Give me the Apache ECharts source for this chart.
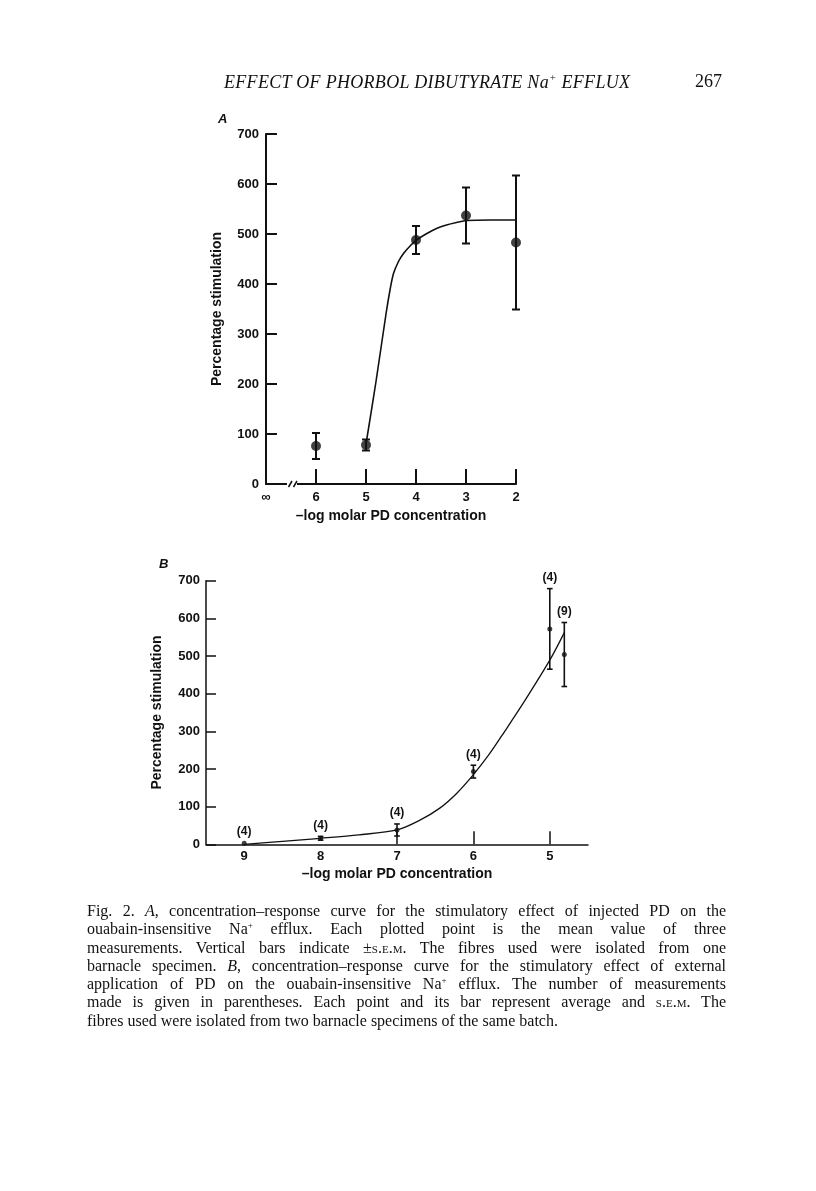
<!DOCTYPE html>
<html><head><meta charset="utf-8">
<script src="https://cdn.jsdelivr.net/npm/echarts@6/dist/echarts.min.js"></script>
<style>
html,body{margin:0;padding:0;background:#fff;}
#chart{position:absolute;left:0;top:0;width:816px;height:1191px;}
.hdr{position:absolute;top:71px;font-family:"Liberation Serif","DejaVu Serif",serif;font-size:18px;color:#111;white-space:nowrap;}
.cap{position:absolute;left:87px;top:902px;width:639px;font-family:"Liberation Serif","DejaVu Serif",serif;font-size:16px;line-height:18.3px;color:#111;}
.cap div{text-align:justify;text-align-last:justify;white-space:nowrap;}
.cap div.last{text-align-last:left;}
.sc{font-variant:small-caps;}
</style>
</head><body>
<div id="chart"></div>
<div class="hdr" style="left:224px;font-style:italic;letter-spacing:0.3px;">EFFECT OF PHORBOL DIBUTYRATE Na<sup style="font-size:11px">+</sup> EFFLUX</div>
<div class="hdr" style="left:695px;">267</div>
<div class="cap">
<div>Fig. 2. <i>A</i>, concentration–response curve for the stimulatory effect of injected PD on the</div>
<div>ouabain-insensitive Na<sup style="font-size:9px;line-height:0">+</sup> efflux. Each plotted point is the mean value of three</div>
<div>measurements. Vertical bars indicate ±<span class="sc">s.e.m.</span> The fibres used were isolated from one</div>
<div>barnacle specimen. <i>B</i>, concentration–response curve for the stimulatory effect of external</div>
<div>application of PD on the ouabain-insensitive Na<sup style="font-size:9px;line-height:0">+</sup> efflux. The number of measurements</div>
<div>made is given in parentheses. Each point and its bar represent average and <span class="sc">s.e.m.</span> The</div>
<div class="last">fibres used were isolated from two barnacle specimens of the same batch.</div>
</div>
<script>
// ---------- Panel A data ----------
const aTickValues = [7, 6, 5, 4, 3, 2];
const aTickLabels = ['∞', '6', '5', '4', '3', '2'];
const aX = [6, 5, 4, 3, 2];
const aMean = [76, 78, 488, 537, 483];
const aSem = [26, 11, 28, 56, 134];
const aCurveX = [5.0, 4.8, 4.6, 4.52, 4.45, 4.35, 4.25, 4.1, 3.99, 3.8, 3.59, 3.39, 3.19, 2.99, 2.5, 2.0];
const aCurveY = [80, 205, 340, 388, 421, 445, 461, 478, 488, 500, 511, 518, 523, 527, 528, 528];
const aBreak = [6.46];

// ---------- Panel B data ----------
const bTickValues = [9, 8, 7, 6, 5];
const bTickMarks = [7, 6, 5];
const bX = [9, 8, 7, 6, 5, 4.81];
const bMean = [3, 16, 38, 193, 572, 504];
const bSem = [0, 5, 16, 17, 107, 85];
const bN = ['(4)', '(4)', '(4)', '(4)', '(4)', '(9)'];
const bCurveX = [9, 8.5, 8, 7.5, 7, 6.7, 6.44, 6.22, 6, 5.79, 5.59, 5.35, 5, 4.81];
const bCurveY = [0, 8, 16, 25, 38, 64, 96, 135, 185, 240, 300, 374, 489, 562];

const INK = '#111';
const FONT = '"Liberation Sans", Arial, sans-serif';

function errRender(hw, lw, withLabel) {
  return function (params, api) {
    const x = api.value(0), m = api.value(1), s = api.value(2);
    const top = api.coord([x, m + s]);
    const bot = api.coord([x, m - s]);
    const st = { stroke: INK, lineWidth: lw };
    const ch = [];
    if (s > 0) {
      ch.push({ type: 'line', shape: { x1: top[0], y1: top[1], x2: bot[0], y2: bot[1] }, style: st });
      ch.push({ type: 'line', shape: { x1: top[0] - hw, y1: top[1], x2: top[0] + hw, y2: top[1] }, style: st });
      ch.push({ type: 'line', shape: { x1: bot[0] - hw, y1: bot[1], x2: bot[0] + hw, y2: bot[1] }, style: st });
    }
    if (withLabel) {
      ch.push({ type: 'text', x: top[0], y: top[1] - 11,
        style: { text: bN[params.dataIndex], fill: INK, font: 'bold 12px ' + FONT, align: 'center', verticalAlign: 'middle' } });
    }
    return { type: 'group', children: ch };
  };
}

const chart = echarts.init(document.getElementById('chart'), null, { renderer: 'canvas' });
chart.setOption({
  backgroundColor: '#fff',
  animation: false,
  grid: [
    { left: 266, top: 134, width: 250, height: 350 },
    { left: 206, top: 580.7, width: 382, height: 263.6 }
  ],
  graphic: [
    { type: 'text', left: 218, top: 113, style: { text: 'A', font: 'italic bold 13px ' + FONT, fill: INK } },
    { type: 'text', left: 159, top: 558, style: { text: 'B', font: 'italic bold 13px ' + FONT, fill: INK } }
  ],
  xAxis: [
    {
      gridIndex: 0, type: 'value', min: 2, max: 7, inverse: true,
      name: '–log molar PD concentration', nameLocation: 'middle', nameGap: 25,
      nameTextStyle: { fontFamily: FONT, fontSize: 14, color: INK, fontWeight: 'bold' },
      axisLine: { lineStyle: { color: INK, width: 2 } },
      axisTick: { inside: true, length: 15, customValues: aTickValues.slice(1), lineStyle: { color: INK, width: 2 } },
      axisLabel: { customValues: aTickValues, margin: 7, color: INK, fontFamily: FONT, fontSize: 13, fontWeight: 'bold',
        formatter: v => aTickLabels[aTickValues.indexOf(v)] },
      splitLine: { show: false }
    },
    {
      gridIndex: 1, type: 'value', min: 4.5, max: 9.5, inverse: true,
      name: '–log molar PD concentration', nameLocation: 'middle', nameGap: 23,
      nameTextStyle: { fontFamily: FONT, fontSize: 14, color: INK, fontWeight: 'bold' },
      axisLine: { lineStyle: { color: INK, width: 1.5 } },
      axisTick: { inside: true, length: 13, customValues: bTickMarks, lineStyle: { color: INK, width: 1.5 } },
      axisLabel: { customValues: bTickValues, margin: 6, color: INK, fontFamily: FONT, fontSize: 13, fontWeight: 'bold' },
      splitLine: { show: false }
    }
  ],
  yAxis: [
    {
      gridIndex: 0, type: 'value', min: 0, max: 700, interval: 100,
      name: 'Percentage stimulation', nameLocation: 'middle', nameGap: 42,
      nameTextStyle: { fontFamily: FONT, fontSize: 14, color: INK, fontWeight: 'bold' },
      axisLine: { show: true, lineStyle: { color: INK, width: 2 } },
      axisTick: { show: true, inside: true, length: 11, lineStyle: { color: INK, width: 2 } },
      axisLabel: { margin: 7, color: INK, fontFamily: FONT, fontSize: 13, fontWeight: 'bold' },
      splitLine: { show: false }
    },
    {
      gridIndex: 1, type: 'value', min: 0, max: 700, interval: 100,
      name: 'Percentage stimulation', nameLocation: 'middle', nameGap: 42,
      nameTextStyle: { fontFamily: FONT, fontSize: 14, color: INK, fontWeight: 'bold' },
      axisLine: { show: true, lineStyle: { color: INK, width: 1.5 } },
      axisTick: { show: true, inside: true, length: 10, lineStyle: { color: INK, width: 1.5 } },
      axisLabel: { margin: 6, color: INK, fontFamily: FONT, fontSize: 13, fontWeight: 'bold' },
      splitLine: { show: false }
    }
  ],
  series: [
    // Panel A
    { type: 'custom', xAxisIndex: 0, yAxisIndex: 0, z: 5,
      data: aBreak.map(x => [x, 0]),
      renderItem: function (params, api) {
        const p = api.coord([api.value(0), api.value(1)]);
        return { type: 'group', children: [
          { type: 'rect', shape: { x: p[0] - 6, y: p[1] - 3, width: 10, height: 6 }, style: { fill: '#fff' } },
          { type: 'line', shape: { x1: p[0] - 4.5, y1: p[1] + 3, x2: p[0] - 1, y2: p[1] - 3 }, style: { stroke: INK, lineWidth: 1.5 } },
          { type: 'line', shape: { x1: p[0] + 0.5, y1: p[1] + 3, x2: p[0] + 4, y2: p[1] - 3 }, style: { stroke: INK, lineWidth: 1.5 } }
        ] };
      }
    },
    { type: 'line', xAxisIndex: 0, yAxisIndex: 0, data: aCurveX.map((x, i) => [x, aCurveY[i]]),
      smooth: 0.3, showSymbol: false, lineStyle: { color: INK, width: 1.6 }, z: 3 },
    { type: 'custom', xAxisIndex: 0, yAxisIndex: 0, z: 4,
      data: aX.map((x, i) => [x, aMean[i], aSem[i]]), renderItem: errRender(4, 2, false) },
    { type: 'scatter', xAxisIndex: 0, yAxisIndex: 0, z: 6, data: aX.map((x, i) => [x, aMean[i]]),
      symbol: 'circle', symbolSize: 10, itemStyle: { color: INK } },
    // Panel B
    { type: 'line', xAxisIndex: 1, yAxisIndex: 1, data: bCurveX.map((x, i) => [x, bCurveY[i]]),
      smooth: 0.3, showSymbol: false, lineStyle: { color: INK, width: 1.3 }, z: 3 },
    { type: 'custom', xAxisIndex: 1, yAxisIndex: 1, z: 4,
      data: bX.map((x, i) => [x, bMean[i], bSem[i]]), renderItem: errRender(2.8, 1.6, true) },
    { type: 'scatter', xAxisIndex: 1, yAxisIndex: 1, z: 6, data: bX.map((x, i) => [x, bMean[i]]),
      symbol: 'circle', symbolSize: 5, itemStyle: { color: INK } }
  ]
});
</script>
</body></html>
